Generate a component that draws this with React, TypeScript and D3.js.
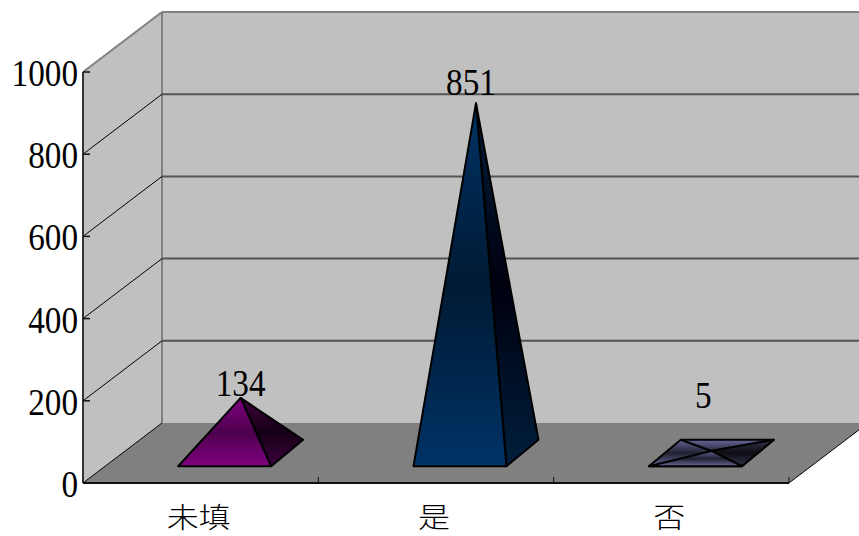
import React from "react";
import * as d3 from "d3";

const categories = ["未填", "是", "否"];
const values = [134, 851, 5];
const yTicks = [0, 200, 400, 600, 800, 1000];
const palettes = [
  { front: ["#800080", "#4d004d", "#800080"], side: ["#3f003f", "#140014", "#3f003f"] },
  { front: ["#003366", "#001a33", "#003366"], side: ["#001f3d", "#00000f", "#001f3d"] },
  { front: ["#666699", "#20202f", "#666699"], side: ["#33334d", "#0d0d14", "#33334d"] },
];

const W = 859, H = 536;
const dx = 79, dy = -60;
const x = d3.scaleBand<string>().domain(categories).range([83, 789]).padding(0);
const y = d3.scaleLinear().domain([0, 1000]).range([483, 72]);
const baseFrontDepth = 0.28, baseBackDepth = 0.72;
const barWidth = 93;
const baseSkew = 32;
const digit = "'Liberation Serif', serif";
const cjk = "'Noto Sans CJK TC', sans-serif";

function Num({ x: px, y: py, anchor, children }: { x: number; y: number; anchor: string; children: number }) {
  const n = String(children).length;
  return (
    <text x={px} y={py} textAnchor={anchor} fontFamily={digit} fontSize={37} stroke="none" fill="#000" textLength={n * 16.6} lengthAdjust="spacingAndGlyphs">
      {children}
    </text>
  );
}

export default function App() {
  const y0 = y(0);
  const yTop = y(1000);
  return (
    <svg width={W} height={H} viewBox={`0 0 ${W} ${H}`} style={{ position: "absolute", left: 0, top: 0, background: "#fff" }}>
      <defs>
        {palettes.map((p, i) => (
          <React.Fragment key={i}>
            {(["front", "side"] as const).map((k) => (
              <linearGradient key={k} id={`g-${k}-${i}`} x1="0" y1="0" x2="0" y2="1">
                {p[k].map((c, j) => <stop key={j} offset={j / 2} stopColor={c} />)}
              </linearGradient>
            ))}
          </React.Fragment>
        ))}
      </defs>

      {/* walls */}
      <polygon points={`${83},${yTop} ${83 + dx},${yTop + dy} ${W + 20},${yTop + dy} ${W + 20},${y0 + dy} ${83 + dx},${y0 + dy} 83,${y0}`} fill="#c0c0c0" />
      <polygon points={`83,${y0} ${83 + dx},${y0 + dy} ${789 + dx},${y0 + dy} 789,${y0}`} fill="#808080" />
      <line x1={83} y1={yTop} x2={83 + dx} y2={yTop + dy} stroke="#808080" strokeWidth={2} />
      <line x1={83 + dx} y1={yTop + dy} x2={W} y2={yTop + dy} stroke="#808080" strokeWidth={2} />
      <line x1={83 + dx} y1={yTop + dy} x2={83 + dx} y2={y0 + dy} stroke="#808080" strokeWidth={2} />

      {yTicks.slice(1, -1).map((t) => (
        <g key={t}>
          <line x1={83} y1={y(t)} x2={83 + dx} y2={y(t) + dy} stroke="#000" strokeWidth={1} />
          <line x1={83 + dx} y1={y(t) + dy} x2={W} y2={y(t) + dy} stroke="#555" strokeWidth={2} />
        </g>
      ))}
      <line x1={83} y1={y0} x2={83 + dx} y2={y0 + dy} stroke="#000" strokeWidth={1} />
      <line x1={789} y1={y0} x2={789 + dx} y2={y0 + dy} stroke="#000" strokeWidth={1} />

      {/* axes */}
      <line x1={83} y1={yTop} x2={83} y2={y0} stroke="#333" strokeWidth={2} />
      <line x1={83} y1={y0} x2={789} y2={y0} stroke="#111" strokeWidth={2} />
      {yTicks.map((t) => (
        <g key={t}>
          <line x1={83} y1={y(t)} x2={90} y2={y(t)} stroke="#111" strokeWidth={1.5} />
          <Num x={78} y={y(t) + 14} anchor="end">{t}</Num>
        </g>
      ))}
      {categories.map((c) => (
        <g key={c}>
          <line x1={x(c)! + x.bandwidth()} y1={y0 - 6} x2={x(c)! + x.bandwidth()} y2={y0} stroke="#111" strokeWidth={1} />
          <text x={x(c)! + x.bandwidth() / 2 - 2} y={527.5} textAnchor="middle" fontFamily={cjk} fontSize={28} fontWeight={300} fill="#000" textLength={c.length * 32} lengthAdjust="spacingAndGlyphs">{c}</text>
        </g>
      ))}

      {/* pyramids */}
      {categories.map((c, i) => {
        const left = x(c)! + (x.bandwidth() - barWidth) / 2 + 24;
        const right = left + barWidth;
        const fy = y0 + dy * baseFrontDepth;
        const by = y0 + dy * baseBackDepth;
        const cx = (left + right + baseSkew) / 2;
        const cy = (fy + by) / 2;
        const ay = cy - (y0 - y(values[i]));
        const pts = (a: [number, number][]) => a.map((p) => p.join(",")).join(" ");
        const apex: [number, number] = [cx, ay];
        const fl: [number, number] = [left, fy];
        const fr: [number, number] = [right, fy];
        const br: [number, number] = [right + baseSkew, by];
        const bl: [number, number] = [left + baseSkew, by];
        const flat = values[i] < 20;
        const tall = values[i] > 500;
        const labelX = cx + (flat ? -8 : tall ? -5 : 0);
        const labelY = ay - (flat ? 43 : tall ? 8 : 2);
        return (
          <g key={c} stroke="#000" strokeWidth={2} strokeLinejoin="round">
            {flat && <polygon points={pts([fl, fr, br, bl])} fill={`url(#g-front-${i})`} />}
            {flat && <polyline points={pts([bl, apex, br])} fill="none" />}
            <polygon points={pts([fr, br, apex])} fill={`url(#g-side-${i})`} />
            <polygon points={pts([fl, fr, apex])} fill={`url(#g-front-${i})`} />
            <Num x={labelX} y={labelY} anchor="middle">{values[i]}</Num>
          </g>
        );
      })}
    </svg>
  );
}
